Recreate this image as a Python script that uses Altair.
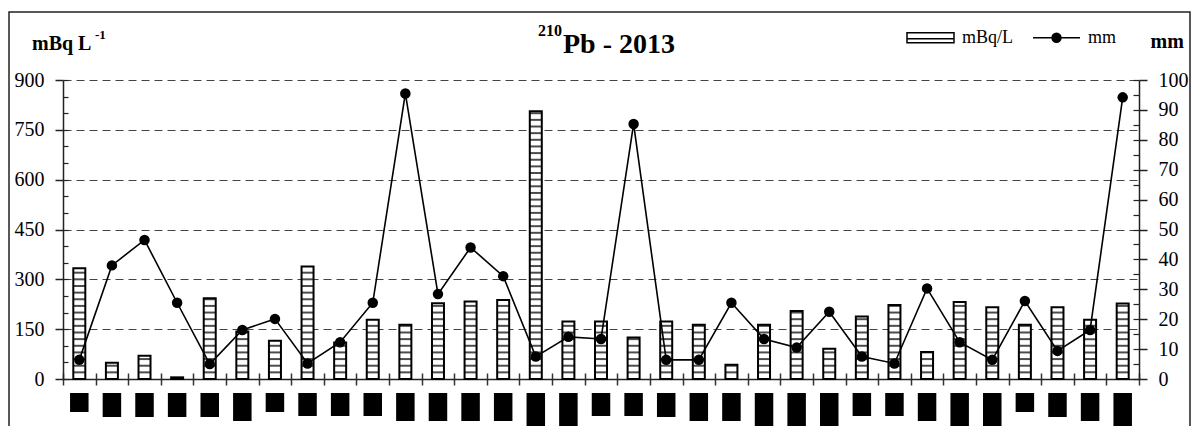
import altair as alt
import pandas as pd

# Sampling periods of 2013 (33 collections)
periods = list(range(1, 34))

# 210Pb activity concentration in rain water, mBq/L
activity = [333, 49, 70, 5, 243, 143, 115, 339, 110, 178, 163, 228, 233, 238, 806,
            173, 173, 125, 173, 163, 43, 163, 205, 91, 188, 223, 81, 232, 216, 163,
            216, 178, 227]

# Precipitation per period, mm
rain_mm = [6.4, 38.0, 46.5, 25.5, 5.0, 16.4, 20.1, 5.2, 12.3, 25.5, 95.5, 28.4, 44.0,
           34.4, 7.5, 14.1, 13.4, 85.3, 6.4, 6.4, 25.5, 13.4, 10.5, 22.5, 7.5, 5.2,
           30.3, 12.3, 6.4, 26.1, 9.4, 16.4, 94.2]

# Length of the blacked-out period labels under the axis
label_depth = [19, 24, 24, 24, 24, 28, 19, 23, 23, 23, 28, 28, 28, 28, 34, 34, 23,
               23, 24, 28, 28, 34, 34, 34, 23, 23, 28, 34, 34, 19, 24, 28, 34]

legend_items = ["mBq/L", "mm"]

FONT = "Liberation Serif"
W, H = 1076, 299

df = pd.DataFrame({"period": periods, "mbq": activity, "mm": rain_mm,
                   "label_depth": label_depth})

x_scale = alt.Scale(paddingInner=0, paddingOuter=0)
base = alt.Chart(df)

# Bars: white with black outline
bars = base.mark_bar(size=12, fill="white", stroke="black", strokeWidth=2).encode(
    x=alt.X("period:O", scale=x_scale,
            axis=alt.Axis(orient="bottom", labels=False, title=None, tickBand="extent",
                          tickSize=6, tickWidth=1.5, tickColor="#333",
                          domainColor="#222", domainWidth=1.5, grid=False)),
    y=alt.Y("mbq:Q", scale=alt.Scale(domain=[0, 900], nice=False, zero=True),
            axis=alt.Axis(orient="left", values=list(range(0, 901, 150)), tickSize=8,
                          tickWidth=1.5, tickColor="#222", domainColor="#222",
                          domainWidth=1.5, labelPadding=11, labelFontSize=20,
                          labelFont=FONT, labelColor="black",
                          grid=True, gridDash=[8, 5], gridColor="#444", gridWidth=1,
                          title=None)),
)

# Horizontal hatching every 20 mBq/L inside each bar
stripes = base.transform_calculate(
    stripe="sequence(20, datum.mbq, 20)"
).transform_flatten(["stripe"]).mark_tick(size=12, thickness=2, color="black").encode(
    x=alt.X("period:O", scale=x_scale,
            axis=alt.Axis(orient="bottom", offset=-6, labels=False, title=None,
                          tickBand="extent", tickSize=6, tickWidth=1.5,
                          tickColor="#333", domain=False, grid=False)),
    y=alt.Y("stripe:Q", scale=alt.Scale(domain=[0, 900], nice=False),
            axis=alt.Axis(orient="left", offset=-5, values=list(range(0, 901, 50)),
                          tickSize=5, tickWidth=1.2, tickColor="#222", labels=False,
                          domain=False, grid=False, title=None)),
)

line = base.mark_line(color="black", strokeWidth=1.6).encode(
    x=alt.X("period:O", scale=x_scale, axis=None),
    y=alt.Y("mm:Q", scale=alt.Scale(domain=[0, 100], nice=False),
            axis=alt.Axis(orient="right", values=list(range(0, 101, 10)), tickSize=8,
                          tickWidth=1.5, tickColor="#222", domainColor="#222",
                          domainWidth=1.5, labelPadding=11, labelFontSize=20,
                          labelFont=FONT, labelColor="black",
                          grid=False, title="mm", titleAngle=0, titleX=11, titleY=-33,
                          titleAlign="left", titleBaseline="alphabetic",
                          titleFont=FONT, titleColor="black",
                          titleFontSize=20, titleFontWeight="bold")),
)

points = base.mark_circle(size=110, color="black", opacity=1).encode(
    x=alt.X("period:O", scale=x_scale, axis=None),
    y=alt.Y("mm:Q", scale=alt.Scale(domain=[0, 100], nice=False),
            axis=alt.Axis(orient="right", offset=-6, values=list(range(0, 101, 5)),
                          tickSize=6, tickWidth=1.2, tickColor="#222", labels=False,
                          domain=False, grid=False, title=None)),
)

# Period labels rendered as solid black blocks below the axis
blocks = base.mark_bar(size=18.5, color="black").encode(
    x=alt.X("period:O", scale=x_scale, axis=None),
    y=alt.Y("label_depth:Q", scale=alt.Scale(domain=[0, 40], range=[313, 353]),
            axis=None),
    y2=alt.datum(0),
)

# Legend built from a shape scale with custom symbols:
# a hatched bar and a line with a solid dot (dot drawn as nested rings)
rect_path = "M-1,-0.21H1V0.21H-1Z M-1,0.04H1"
rings = "".join(
    f" M{r},0A{r},{r},0,1,1,-{r},0A{r},{r},0,1,1,{r},0Z"
    for r in (0.19, 0.13, 0.07, 0.02)
)
dot_path = "M-1,0H1" + rings
legend_df = pd.DataFrame({"item": legend_items})
legend_layer = alt.Chart(legend_df).mark_point(
    opacity=0, stroke="black", strokeWidth=1.5
).encode(
    shape=alt.Shape("item:N", scale=alt.Scale(domain=legend_items,
                                              range=[rect_path, dot_path]),
                    legend=alt.Legend(title=None, orient="none", legendX=843,
                                      legendY=-67, direction="horizontal",
                                      symbolSize=2209, symbolStrokeWidth=1.5,
                                      symbolFillColor="white",
                                      symbolStrokeColor="black",
                                      labelFontSize=18, labelFont=FONT,
                                      labelColor="black",
                                      labelOffset=7, columnPadding=16)),
)

# Titles drawn as text so the superscripts can be sized separately
def text_layer(txt, x, y, size, align="left"):
    return alt.Chart(pd.DataFrame({"t": [txt]})).mark_text(
        font=FONT, fontSize=size, fontWeight="bold", align=align,
        baseline="alphabetic", color="black"
    ).encode(text="t:N", x=alt.value(x), y=alt.value(y))

title_main = text_layer("Pb - 2013", 500, -27, 28)
title_sup = text_layer("210", 499, -44, 16, align="right")
unit_main = text_layer("mBq L", -31, -30, 20)
unit_sup = text_layer("-1", 32, -41, 13)

frame = alt.Chart(pd.DataFrame({"f": [0]})).mark_rect(
    fill="transparent", stroke="#222", strokeWidth=1.5
).encode(x=alt.value(-54), x2=alt.value(1127), y=alt.value(-68), y2=alt.value(370))

chart = alt.layer(
    frame, bars, stripes, line, points, blocks, legend_layer,
    title_main, title_sup, unit_main, unit_sup
).resolve_scale(
    y="independent", x="shared"
).resolve_axis(
    x="independent"
).properties(
    width=W, height=H, autosize="none",
    padding={"left": 63, "top": 80, "right": 56, "bottom": 47},
).configure(
    background="white", font=FONT
).configure_view(
    stroke=None
).configure_axis(
    labelFont=FONT, titleFont=FONT, labelColor="black", titleColor="black"
)

chart.save("out.html", embed_options={"renderer": "svg", "actions": False})
